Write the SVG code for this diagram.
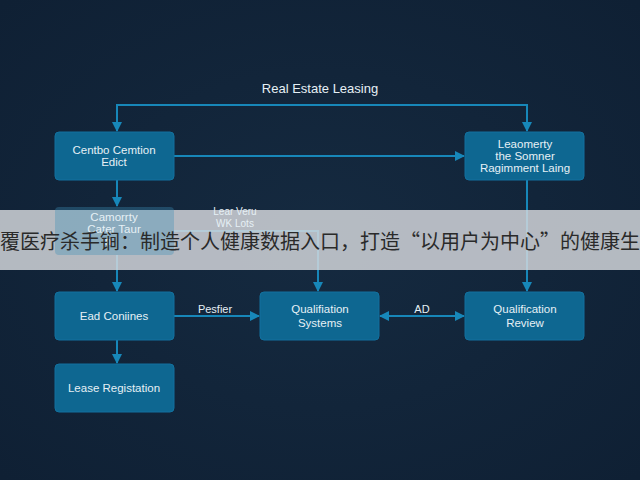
<svg xmlns="http://www.w3.org/2000/svg" width="640" height="480" viewBox="0 0 640 480">
<defs>
<radialGradient id="bg" cx="50%" cy="50%" r="70%">
<stop offset="0" stop-color="#152a40"/>
<stop offset="1" stop-color="#0f2034"/>
</radialGradient>
<marker id="ah" markerWidth="10" markerHeight="10" refX="9" refY="5" orient="auto-start-reverse" markerUnits="userSpaceOnUse">
<path d="M0,0 L10,5 L0,10 Z" fill="#1787b9"/>
</marker>
<style>
.box{fill:#0e6791;stroke:#12719f;stroke-width:1}
.t{font-family:"Liberation Sans",Arial,sans-serif;font-size:11.5px;fill:#e6f0f5;text-anchor:middle}
.lbl{font-family:"Liberation Sans",Arial,sans-serif;font-size:11px;fill:#e6f0f5;text-anchor:middle}
.ln{fill:none;stroke:#1787b9;stroke-width:2}
</style>
</defs>
<rect width="640" height="480" fill="url(#bg)"/>
<text x="320" y="93" class="t" style="font-size:13px">Real Estate Leasing</text>
<g id="connectors">
<path class="ln" d="M320,105 H117 V131" marker-end="url(#ah)"/>
<path class="ln" d="M320,105 H527 V131" marker-end="url(#ah)"/>
<path class="ln" d="M174,156 H464" marker-end="url(#ah)"/>
<path class="ln" d="M117,180 V206" marker-end="url(#ah)"/>
<path class="ln" d="M174,231 H318 V291" marker-end="url(#ah)"/>
<path class="ln" d="M117,255 V291" marker-end="url(#ah)"/>
<path class="ln" d="M527,180 V291" marker-end="url(#ah)"/>
<path class="ln" d="M174,316 H259" marker-end="url(#ah)"/>
<path class="ln" d="M380,316 H464" marker-start="url(#ah)" marker-end="url(#ah)"/>
<path class="ln" d="M117,340 V363" marker-end="url(#ah)"/>
<text x="215" y="313" class="lbl">Pesfier</text>
<text x="422" y="313" class="lbl">AD</text>
</g>
<g id="nodeA"><rect class="box" x="55" y="132" width="119" height="48" rx="4"/>
<text x="114" y="154" class="t">Centbo Cemtion</text><text x="114" y="166" class="t">Edict</text></g>
<g id="nodeB"><rect class="box" x="465" y="132" width="119" height="48" rx="4"/>
<text x="525" y="148" class="t">Leaomerty</text><text x="525" y="160" class="t">the Somner</text><text x="525" y="172" class="t">Ragimment Laing</text></g>
<g id="nodeD"><rect class="box" x="55" y="292" width="119" height="48" rx="4"/>
<text x="114" y="320" class="t">Ead Coniines</text></g>
<g id="nodeE"><rect class="box" x="260" y="292" width="119" height="48" rx="4"/>
<text x="320" y="313" class="t">Qualifiation</text><text x="320" y="327" class="t">Systems</text></g>
<g id="nodeF"><rect class="box" x="465" y="292" width="119" height="48" rx="4"/>
<text x="525" y="313" class="t">Qualification</text><text x="525" y="327" class="t">Review</text></g>
<g id="nodeG"><rect class="box" x="55" y="364" width="119" height="48" rx="4"/>
<text x="114" y="392" class="t">Lease Registation</text></g>
<rect id="bannerBg" x="0" y="210" width="640" height="60" fill="#d6d9dd" fill-opacity="0.83"/>
<g id="nodeC"><rect x="55" y="207" width="119" height="48" rx="4" fill="#3d8fb8" fill-opacity="0.35"/>
<text x="114" y="221" class="t">Camorrty</text><text x="114" y="233" class="t">Cater Taur</text><text x="108" y="245" class="t">n</text></g>
<g id="edgeLabel">
<text x="235" y="215" class="lbl" style="font-size:10px">Lear Veru</text>
<text x="235" y="227" class="lbl" style="font-size:10px">WK Lots</text>
</g>
<g id="banner">
<text x="0" y="249" font-family="'Noto Sans CJK SC',sans-serif" font-size="20" fill="#2a2a2a">覆医疗杀手锏：制造个人健康数据入口，打造“以用户为中心”的健康生</text>
</g>
</svg>
